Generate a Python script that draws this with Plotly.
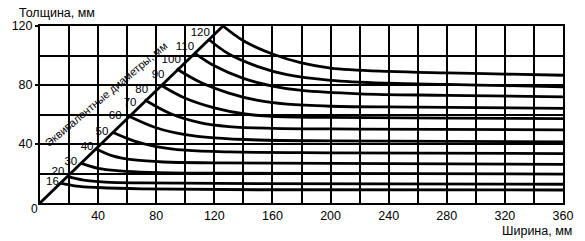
import plotly.graph_objects as go

# ---- data ----
diameters = [16, 20, 30, 40, 50, 60, 70, 80, 90, 100, 110, 120]

w16 = [14, 25, 40, 70, 150, 360]
t16 = [13.5, 11.5, 10.5, 9.6, 9.0, 8.8]
w20 = [18.5, 30, 45, 70, 150, 360]
t20 = [18, 15.5, 14.2, 13.6, 13.1, 12.7]
w30 = [28, 40, 55, 75, 120, 360]
t30 = [27, 23.5, 21.8, 20.8, 20.2, 19.6]
w40 = [38, 50, 65, 85, 120, 200, 360]
t40 = [37, 32, 29.2, 27.8, 27.2, 26.8, 26.2]
w50 = [50, 65, 80, 100, 130, 200, 360]
t50 = [48, 42, 38.3, 35.8, 34.6, 34.0, 33.5]
w60 = [61, 80, 100, 120, 150, 200, 360]
t60 = [59, 51, 46.3, 44.1, 42.7, 42.1, 41.5]
w70 = [72, 90, 110, 130, 160, 220, 360]
t70 = [70, 60.5, 54.5, 51.8, 50.6, 50.1, 49.6]
w80 = [83, 100, 120, 140, 160, 200, 280, 360]
t80 = [80, 71, 64.5, 60.5, 58.8, 58.0, 57.6, 57.2]
w90 = [94, 110, 130, 150, 170, 200, 260, 360]
t90 = [91, 82, 74.5, 69.5, 67.0, 65.6, 65.0, 64.2]
w100 = [106, 120, 140, 160, 180, 220, 280, 360]
t100 = [102, 93, 84.5, 79.3, 76.3, 74.0, 73.0, 72.0]
w110 = [116, 130, 150, 170, 200, 240, 280, 320, 360]
t110 = [111, 101, 92.5, 87.0, 83.2, 81.2, 80.4, 79.6, 78.8]
w120 = [126, 140, 160, 180, 200, 240, 280, 320, 360]
t120 = [120, 110, 101, 95, 91.5, 89.2, 88.2, 87.4, 86.6]

diag_x = [0, 126]
diag_y = [0, 120]

label_x = [8.6, 12.4, 21.2, 32.4, 42.6, 51.8, 62, 70, 81.3, 90.3, 99.8, 110.3]
label_y = [13.9, 20.8, 27.9, 37.9, 48.3, 58.9, 67.5, 76.5, 86.6, 97.0, 105.4, 114.9]

x_ticks = [40, 80, 120, 160, 200, 240, 280, 320, 360]
y_ticks = [40, 80, 120]

curves_w = [w16, w20, w30, w40, w50, w60, w70, w80, w90, w100, w110, w120]
curves_t = [t16, t20, t30, t40, t50, t60, t70, t80, t90, t100, t110, t120]

FONT = "Liberation Sans"
fig = go.Figure()

for d, xs, ys in zip(diameters, curves_w, curves_t):
    fig.add_trace(go.Scatter(x=xs, y=ys, mode="lines",
                             line=dict(color="black", width=2.8, shape="spline", smoothing=1.0),
                             showlegend=False, hoverinfo="skip"))

fig.add_trace(go.Scatter(x=diag_x, y=diag_y, mode="lines",
                         line=dict(color="black", width=2.8),
                         showlegend=False, hoverinfo="skip"))

fig.add_trace(go.Scatter(x=label_x, y=label_y, mode="text",
                         text=[str(d) for d in diameters],
                         textfont=dict(family=FONT, size=11.5, color="black"),
                         showlegend=False, hoverinfo="skip"))

fig.add_annotation(x=45.5, y=74, xref="x", yref="y",
                   text="Эквивалентные диаметры, мм", showarrow=False,
                   textangle=-40, font=dict(family=FONT, size=11, color="black"))

fig.add_annotation(x=0, y=0, xref="x", yref="y", text="0", showarrow=False,
                   xshift=-6, yshift=-6, font=dict(family=FONT, size=12, color="black"))

fig.add_annotation(x=0, y=1, xref="paper", yref="paper", text="Толщина, мм",
                   showarrow=False, xanchor="left", yanchor="bottom",
                   xshift=-23, yshift=4, font=dict(family=FONT, size=12.5, color="black"))
fig.add_annotation(x=1, y=0, xref="paper", yref="paper", text="Ширина, мм",
                   showarrow=False, xanchor="right", yanchor="top",
                   xshift=11, yshift=-19, font=dict(family=FONT, size=12.5, color="black"))

fig.update_xaxes(range=[0, 360], tickvals=x_ticks, ticks="",
                 showline=True, linecolor="black", linewidth=2, mirror=True,
                 showgrid=True, gridcolor="black", gridwidth=1.6, zeroline=False,
                 tickfont=dict(family=FONT, size=12.5, color="black"),
                 minor=dict(dtick=20, showgrid=True, gridcolor="black", gridwidth=1.6))
fig.update_yaxes(range=[0, 120], tickvals=y_ticks, ticks="outside", ticklen=3,
                 tickcolor="black", tickwidth=1.5,
                 showline=True, linecolor="black", linewidth=2, mirror=True,
                 showgrid=True, gridcolor="black", gridwidth=1.6, zeroline=False,
                 tickfont=dict(family=FONT, size=12.5, color="black"),
                 minor=dict(dtick=20, showgrid=True, gridcolor="black", gridwidth=1.6))

fig.update_layout(width=585, height=241, margin=dict(l=32, r=22, t=26, b=38),
                  plot_bgcolor="white", paper_bgcolor="white")

fig.write_html("out.html")
